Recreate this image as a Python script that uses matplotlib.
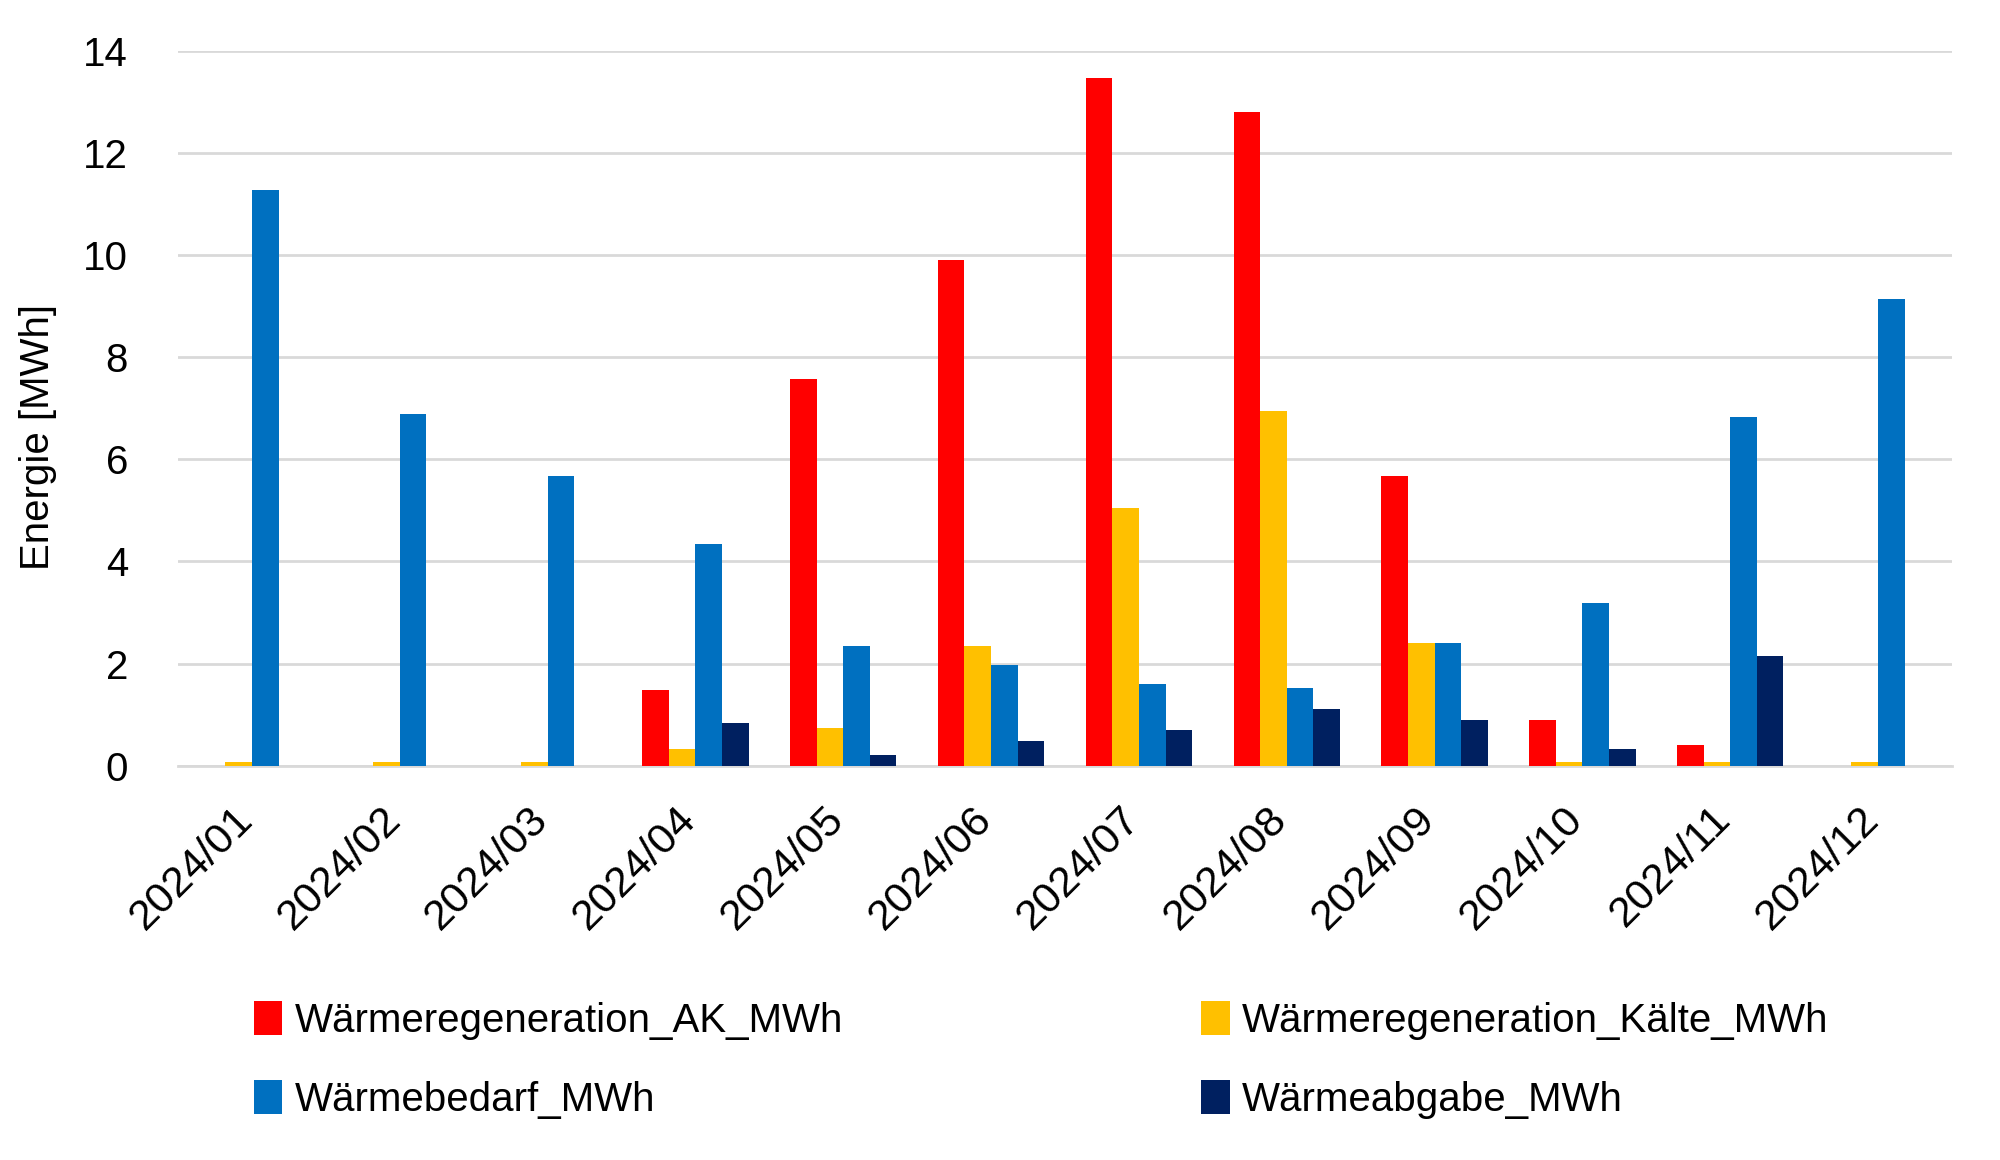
import matplotlib.pyplot as plt
import matplotlib.transforms as mtransforms
import numpy as np
from matplotlib import font_manager

months = ['2024/01', '2024/02', '2024/03', '2024/04', '2024/05', '2024/06',
          '2024/07', '2024/08', '2024/09', '2024/10', '2024/11', '2024/12']

regen_ak = [0, 0, 0, 1.48, 7.58, 9.9, 13.48, 12.8, 5.68, 0.9, 0.4, 0]
regen_kaelte = [0.08, 0.08, 0.08, 0.33, 0.73, 2.35, 5.05, 6.95, 2.4, 0.08, 0.08, 0.08]
bedarf = [11.28, 6.88, 5.68, 4.35, 2.35, 1.98, 1.6, 1.53, 2.4, 3.18, 6.83, 9.15]
abgabe = [0, 0, 0, 0.83, 0.2, 0.48, 0.7, 1.1, 0.9, 0.33, 2.15, 0]

series = [
    ('Wärmeregeneration_AK_MWh', regen_ak, '#ff0000'),
    ('Wärmeregeneration_Kälte_MWh', regen_kaelte, '#ffc000'),
    ('Wärmebedarf_MWh', bedarf, '#0070c0'),
    ('Wärmeabgabe_MWh', abgabe, '#002060'),
]

names = {f.name for f in font_manager.fontManager.ttflist}
narrow = 'Liberation Sans Narrow' if 'Liberation Sans Narrow' in names else 'Liberation Sans'
plt.rcParams['font.family'] = ['Liberation Sans', 'DejaVu Sans']

fig = plt.figure(figsize=(20, 11.6), dpi=100)
ax = fig.add_axes([0.089, 0.34, 0.887, 0.616])

x = np.arange(len(months))
width = 0.18
bars = []
for i, (label, vals, color) in enumerate(series):
    bars.append(ax.bar(x + (i - 1.5) * width, vals, width, color=color, label=label, zorder=3))

ax.set_xlim(-0.5, len(months) - 0.5)
ax.set_ylim(0, 14)
ax.set_yticks(range(0, 15, 2))
ax.grid(axis='y', color='#d9d9d9', linewidth=2, zorder=0)
for s in ['top', 'right', 'left']:
    ax.spines[s].set_visible(False)
ax.spines['bottom'].set_color('#d9d9d9')
ax.spines['bottom'].set_linewidth(2)
ax.tick_params(axis='both', length=0)
ax.tick_params(axis='y', pad=36, labelsize=29)
ax.tick_params(axis='x', pad=24, labelsize=31)
ax.set_xticks(x)
ax.set_xticklabels(months, rotation=45, ha='right', rotation_mode='anchor')
shift = mtransforms.ScaledTranslation(-14 / 72, 0, fig.dpi_scale_trans)
for lbl in ax.get_xticklabels():
    lbl.set_transform(lbl.get_transform() + shift)

ax.set_ylabel('Energie [MWh]', fontsize=29, family=narrow)
ax.yaxis.set_label_coords(-0.068, 0.46)

# row-wise order: AK, Kälte / Bedarf, Abgabe
order = [0, 2, 1, 3]
handles = [bars[i] for i in order]
labels = [series[i][0] for i in order]
fig.legend(handles, labels, ncol=2, loc='upper left', bbox_to_anchor=(0.109, 0.168),
           frameon=False, prop={'family': narrow, 'size': 29},
           handlelength=0.7, handleheight=0.9, handletextpad=0.3,
           columnspacing=8.9, labelspacing=1.0)

fig.savefig('out.png', dpi=100)
